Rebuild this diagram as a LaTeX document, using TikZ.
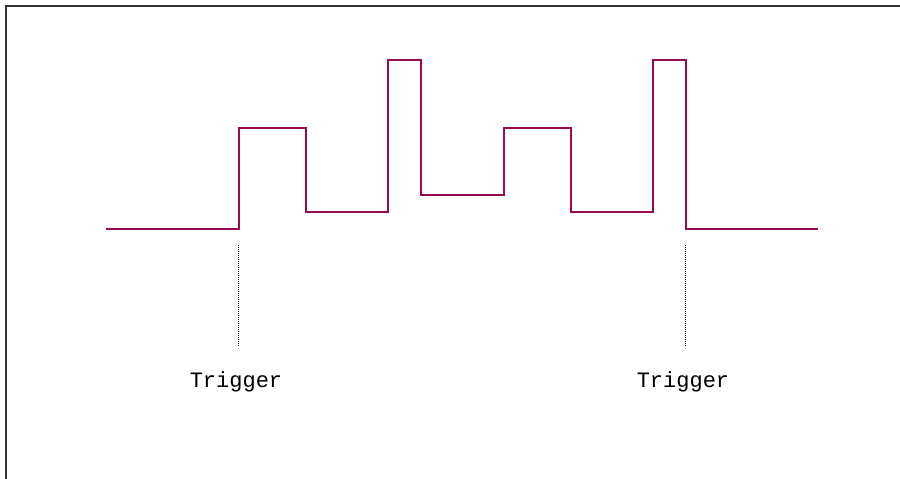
\documentclass[tikz,border=0pt]{standalone}
\usepackage{fontspec}
\setmonofont{Liberation Mono}
\definecolor{wave}{RGB}{150,10,80}
\definecolor{frame}{RGB}{51,51,51}
\tikzset{
  waveline/.style={draw=wave,line width=2pt},
  frameline/.style={draw=frame,line width=2.2pt},
  trigline/.style={draw=black,line width=1.3pt,dash pattern=on 1pt off 1pt},
  triglabel/.style={font=\ttfamily\fontsize{22}{26}\selectfont,inner sep=0pt,anchor=base}
}
\begin{document}
\begin{tikzpicture}[x=1pt,y=-1pt]
\useasboundingbox (0,0) rectangle (900,479);
\draw[frameline] (6,479) -- (6,6) -- (900,6);
\draw[waveline] (106,229) -- (239,229) -- (239,128) -- (306,128) -- (306,212)
  -- (388,212) -- (388,60) -- (421,60) -- (421,195) -- (504,195) -- (504,128)
  -- (571,128) -- (571,212) -- (653,212) -- (653,60) -- (686,60) -- (686,229)
  -- (818,229);
\coordinate (t1a) at (238.5,245);
\coordinate (t1b) at (238.5,347);
\coordinate (t2a) at (685.5,245);
\coordinate (t2b) at (685.5,347);
\draw[trigline] (t1a) -- (t1b);
\draw[trigline] (t2a) -- (t2b);
\node[triglabel] (l1) at (236,387) {Trigger};
\node[triglabel] (l2) at (683,387) {Trigger};
\end{tikzpicture}
\end{document}
